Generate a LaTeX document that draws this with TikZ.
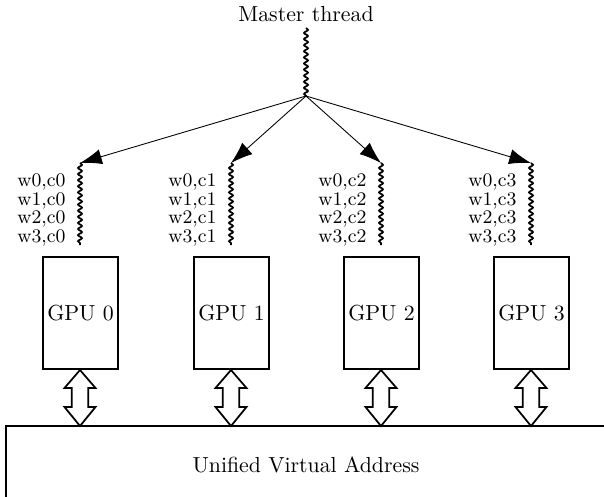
\documentclass[tikz,border=0pt]{standalone}
\usetikzlibrary{arrows.meta,decorations.pathmorphing}
\begin{document}
\begin{tikzpicture}[x=0.4587pt,y=-0.4587pt,
  wave/.style={thick,decorate,decoration={snake,amplitude=0.9pt,segment length=2.8pt}},
  gpu/.style={draw,thick,minimum width=34.4pt,minimum height=51.4pt,inner sep=0pt},
  lbl/.style={anchor=east,align=right,inner sep=0pt,font=\fontsize{8.8}{8.6}\selectfont},
  fork/.style={-{Latex[length=10pt,width=7pt]}},
  bus/.style={draw,thick,fill=white}]
\useasboundingbox (0,0) rectangle (604,497);
\clip (0,0) rectangle (604,497);
\node (mt) at (306,14) {Master thread};
\coordinate (mtop) at (306,28);
\coordinate (mbot) at (306,96);
\draw[wave] (mtop) -- (mbot);
\foreach \i/\cx in {0/80,1/231,2/381,3/531}{
  \coordinate (wt\i) at (\cx,163);
  \coordinate (wb\i) at (\cx,245);
  \draw[wave] (wt\i) -- (wb\i);
  \draw[fork] (mbot) -- (wt\i);
  \node[lbl] (l\i) at (\cx-14,210) {w0,c\i\\w1,c\i\\w2,c\i\\w3,c\i};
  \node[gpu] (g\i) at (\cx+0.5,313) {GPU \i};
  \draw[bus] (\cx,370) -- (\cx+15.5,388) -- (\cx+8.3,388) -- (\cx+8.3,407) -- (\cx+15.5,407) -- (\cx,426) -- (\cx-15.5,407) -- (\cx-8.3,407) -- (\cx-8.3,388) -- (\cx-15.5,388) -- cycle;
}
\draw[thick] (6,620) -- (6,426) -- (700,426);
\node (uva) at (306,465) {Unified Virtual Address};
\end{tikzpicture}
\end{document}
